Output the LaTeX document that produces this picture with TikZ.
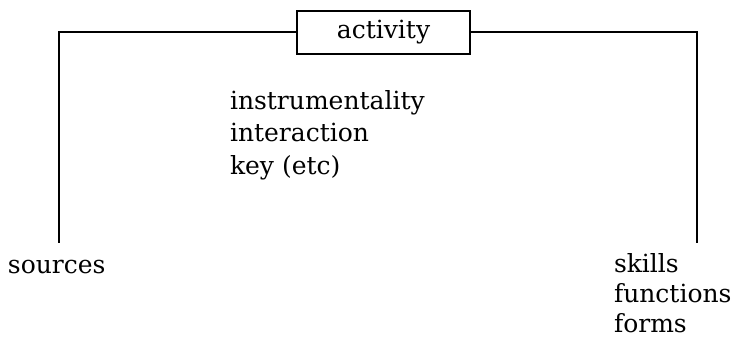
\documentclass[tikz,border=0pt]{standalone}
\usepackage{fontspec}
\setmainfont{DejaVu Serif}
\usetikzlibrary{positioning}

\begin{document}
\begin{tikzpicture}[x=1pt, y=-1pt]%
  \tikzset{frame line/.style={draw, line width=2pt, black}}
  \tikzstyle{every node}=[draw=none, text=black, inner sep=0pt, outer sep=0pt, font=\fontsize{25}{31.5}\selectfont]
  \useasboundingbox (0,0) rectangle (735,339);

  \node[draw, line width=2.2pt, minimum width=173pt, minimum height=43pt] at (383.5,32.5) (act) {activity};
  \coordinate (srcend) at (59,243);
  \coordinate (sklend) at (697,243);

  \node[anchor=base west] at (8,273) (src) {sources};
  \foreach \word/\y [count=\i] in {instrumentality/110, interaction/142, key (etc)/174}
    \node[anchor=base west] at (230,\y) (mid\i) {\word};
  \foreach \word/\y [count=\i] in {skills/272, functions/302, forms/332}
    \node[anchor=base west] at (614,\y) (out\i) {\word};

  \draw[frame line] (act.west) -| (srcend);
  \draw[frame line] (act.east) -| (sklend);
\end{tikzpicture}
\end{document}
